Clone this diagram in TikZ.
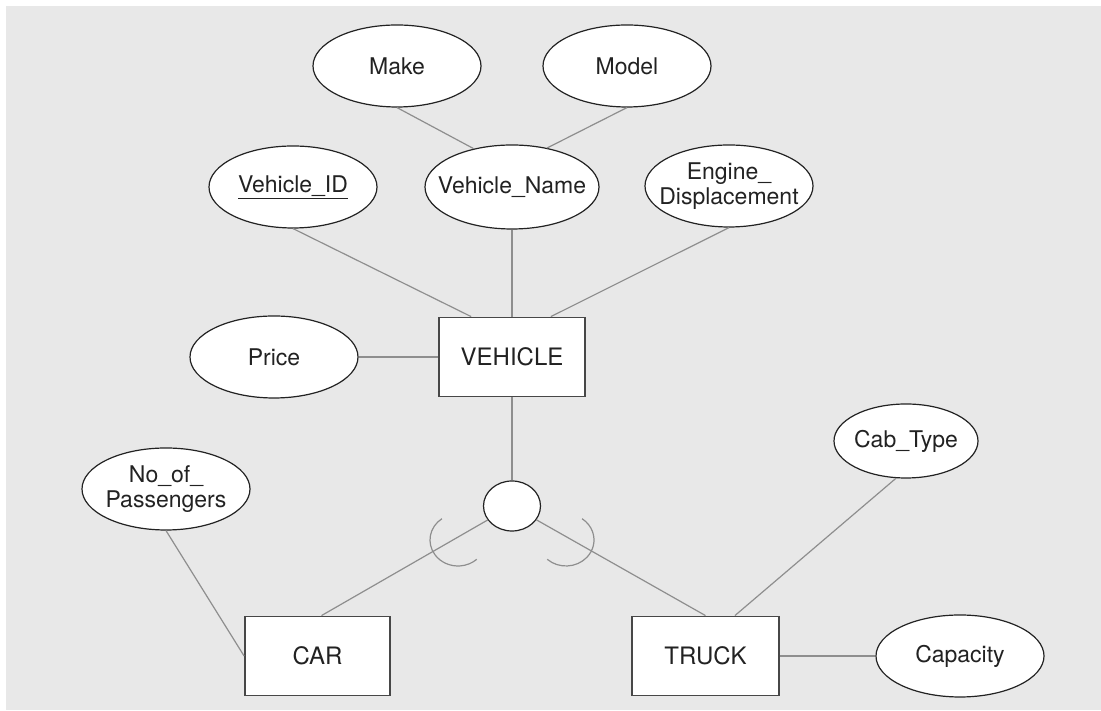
\documentclass[tikz,border=0pt]{standalone}
\usepackage{fontspec}
\setmainfont{TeX Gyre Heros}
\usetikzlibrary{shapes.geometric}
\definecolor{paper}{HTML}{E8E8E8}
\definecolor{ink}{HTML}{222222}
\definecolor{wire}{HTML}{8E8E8E}
\definecolor{frame}{HTML}{474747}
\begin{document}
\begin{tikzpicture}[x=1pt,y=1pt,
  label font/.style={font=\fontsize{23}{25}\selectfont, text=ink},
  % negative inner sep keeps every ellipse at its fixed minimum size
  attr/.style={ellipse, draw=ink, line width=1.2pt, fill=white, inner sep=-16pt,
    minimum width=168pt, minimum height=82pt, align=center, label font},
  entity/.style={rectangle, draw=frame, line width=1.8pt, fill=white, inner sep=0pt,
    minimum width=146pt, minimum height=79pt, font=\fontsize{24}{25}\selectfont, text=ink},
  link/.style={draw=wire, line width=1.2pt},
]
\useasboundingbox (0,0) rectangle (1101,711);
\fill[paper] (6,1) rectangle (1101,705);

% attributes of VEHICLE
\node[attr] (make)  at (397,645) {Make};
\node[attr] (model) at (627,645) {Model};
\node[attr] (vid)   at (293,524) {\underline{Vehicle\_ID}};
\node[attr, minimum width=174pt, minimum height=84pt] (vname) at (512,524) {Vehicle\_Name};
\node[attr] (eng)   at (729,525) {Engine\_\\Displacement};
\node[attr] (price) at (274,354) {Price};

% entities
\node[entity] (veh)   at (512,354) {VEHICLE};
\node[entity, minimum width=145pt] (car) at (317.5,55) {CAR};
\node[entity, minimum width=147pt] (truck) at (705.5,55) {TRUCK};

% specialisation circle
\node[ellipse, draw=ink, line width=1.2pt, fill=white, inner sep=0pt,
  minimum width=57pt, minimum height=50pt] (isa) at (512,205) {};

% attributes of the subclasses
\node[attr] (nop) at (166,222) {No\_of\_\\Passengers};
\node[attr, minimum width=144pt, minimum height=74pt] (cab) at (906,270) {Cab\_Type};
\node[attr] (cap) at (960,55) {Capacity};

% connectors
\draw[link] (make.south) -- (vname.135);
\draw[link] (model.south) -- (vname.48);
\draw[link] (vid.south) -- ([xshift=33pt]veh.north west);
\draw[link] (vname.south) -- (veh.north);
\draw[link] (eng.south) -- ([xshift=-35pt]veh.north east);
\draw[link] (price.east) -- (veh.west);
\draw[link] (veh.south) -- (isa.north);
\draw[link] (isa) -- ([xshift=4pt]car.north);
\draw[link] (isa) -- (truck.north);
\draw[link] (nop.south) -- (car.west);
\draw[link] (cab.255) -- ([xshift=-45pt]truck.north east);
\draw[link] (truck.east) -- (cap.west);

% subset arcs
\draw[link] (458,171) ++(125:28 and 26) arc[start angle=125, end angle=312, x radius=28, y radius=26];
\draw[link] (566,171) ++(-132:28 and 26) arc[start angle=-132, end angle=55, x radius=28, y radius=26];
\end{tikzpicture}
\end{document}
